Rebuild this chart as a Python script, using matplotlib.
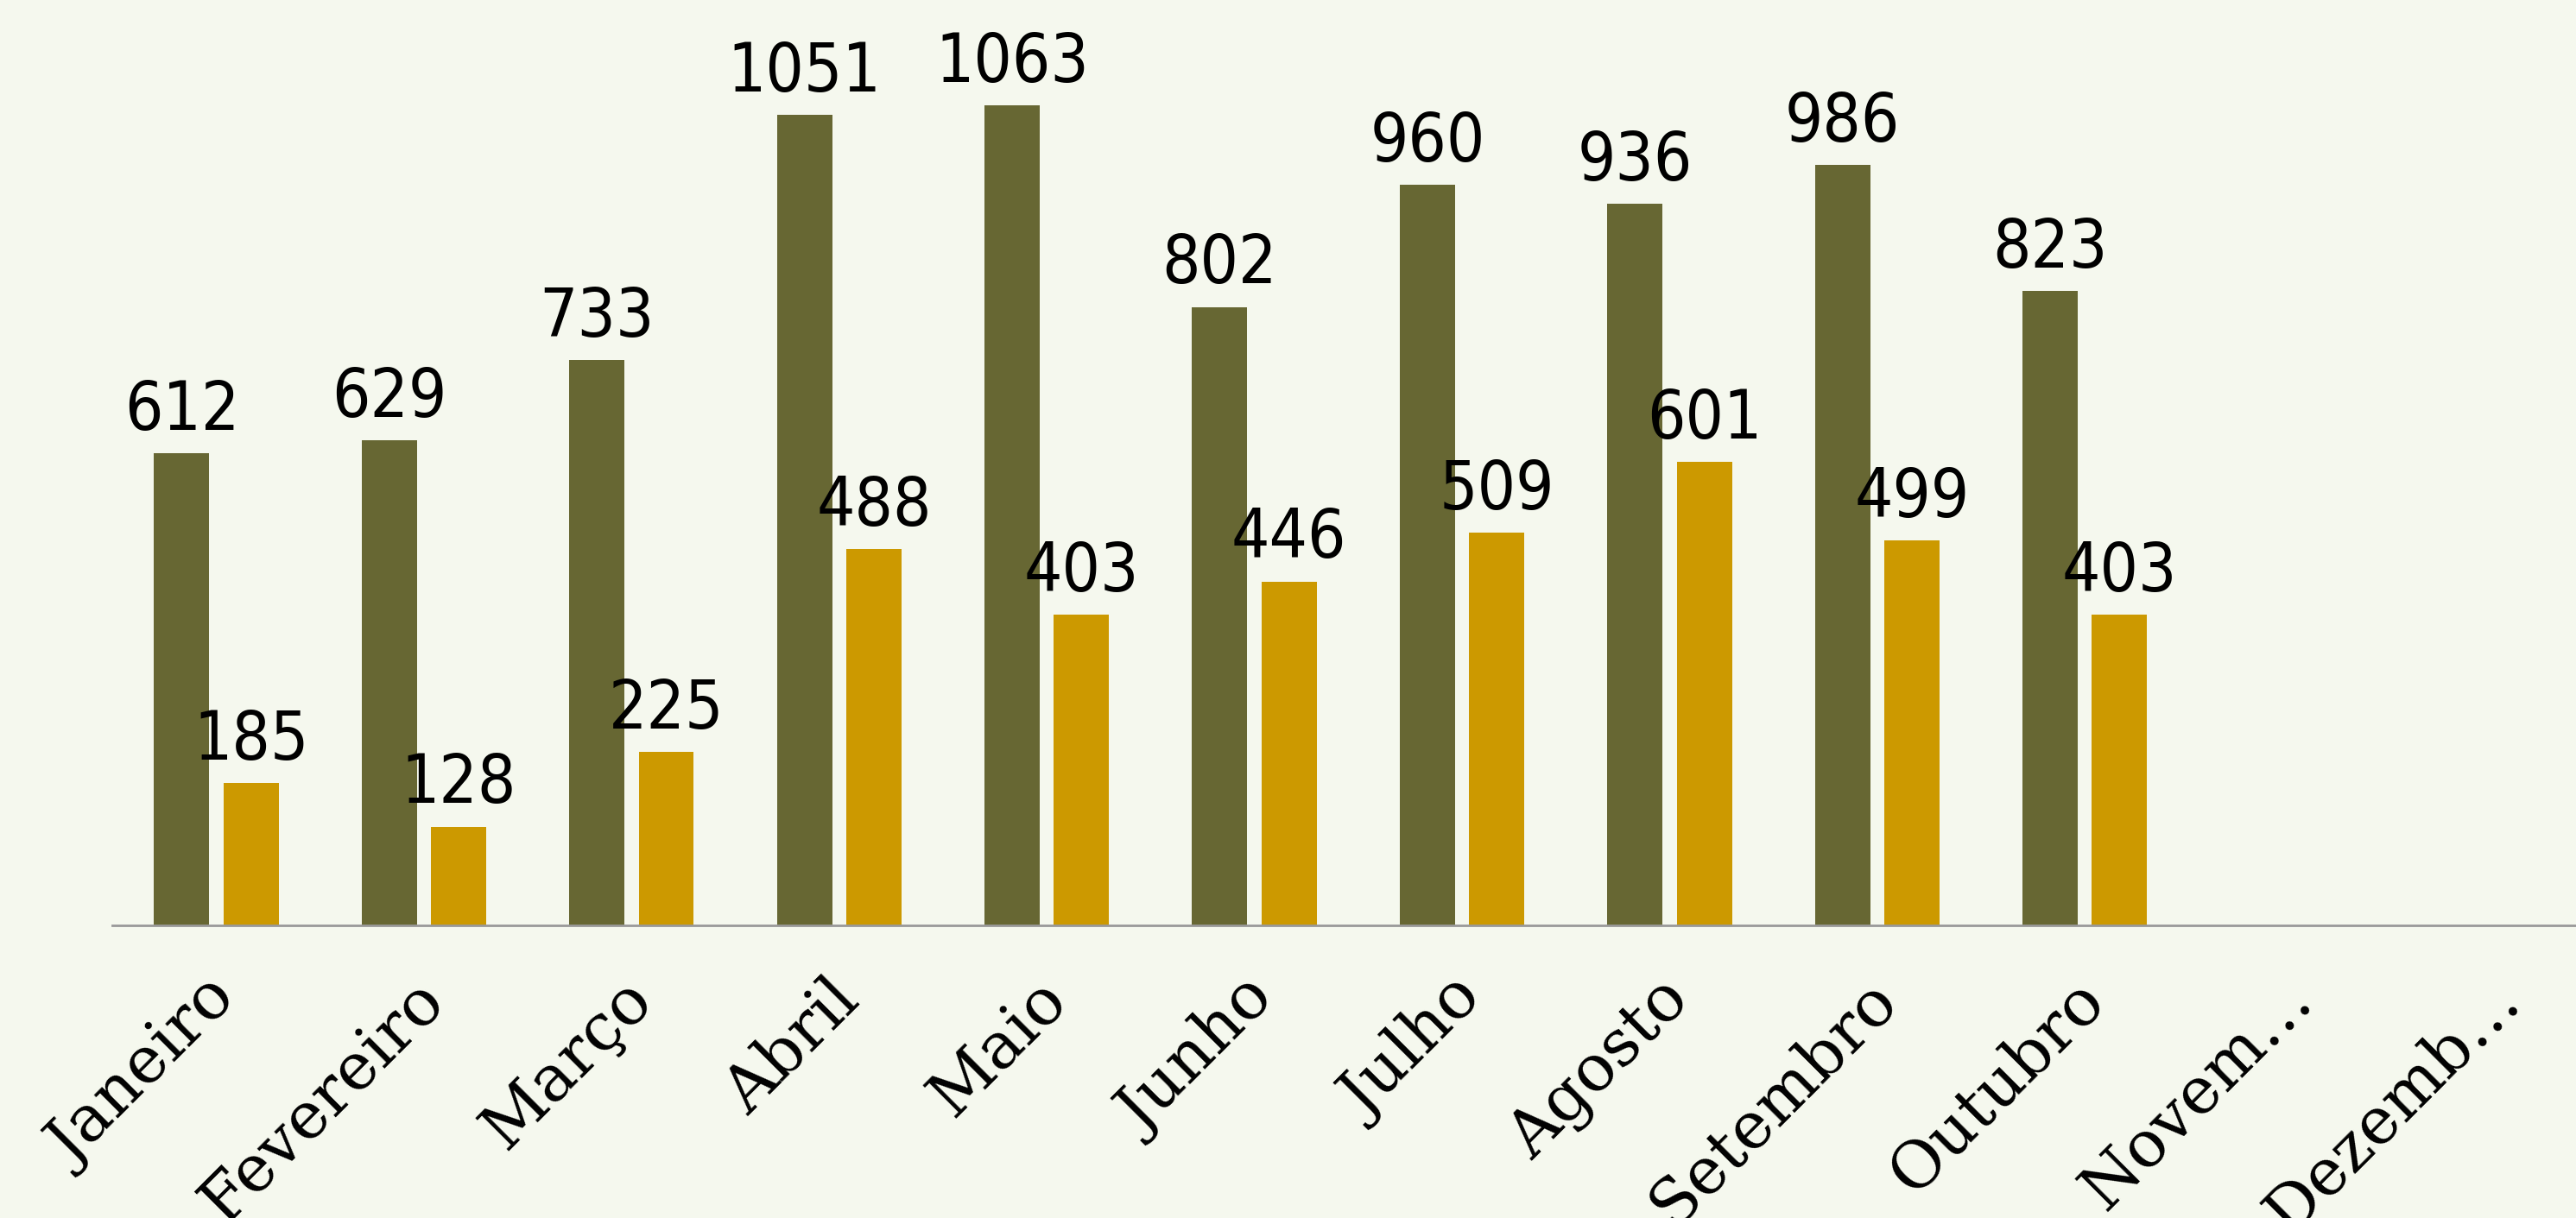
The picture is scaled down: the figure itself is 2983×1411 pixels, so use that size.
import numpy as np
import matplotlib
matplotlib.use("Agg")
import matplotlib.pyplot as plt
import matplotlib.transforms as mtransforms

meses = ["Janeiro", "Fevereiro", "Março", "Abril", "Maio", "Junho",
         "Julho", "Agosto", "Setembro", "Outubro", "Novem…", "Dezemb…"]
serie_a = [612, 629, 733, 1051, 1063, 802, 960, 936, 986, 823]
serie_b = [185, 128, 225, 488, 403, 446, 509, 601, 499, 403]

bg = "#F5F8EE"
cor_a = "#676733"
cor_b = "#CC9900"

fig = plt.figure(figsize=(29.83, 14.11), dpi=100, facecolor=bg)
# eixo sai um pouco alem da borda direita, como no original
ax = fig.add_axes([0.0437, 0.2403, 0.9671, 0.7597])
ax.set_facecolor(bg)

w = 0.266
off = 0.167
x = np.arange(len(meses))
xa = x[:len(serie_a)] - off
xb = x[:len(serie_b)] + off

ba = ax.bar(xa, serie_a, width=w, color=cor_a, zorder=2)
bb = ax.bar(xb, serie_b, width=w, color=cor_b, zorder=2)

for bars, vals in [(ba, serie_a), (bb, serie_b)]:
    for b, v in zip(bars, vals):
        ax.annotate(str(v), (b.get_x() + b.get_width() / 2, v),
                    xytext=(0, 8), textcoords="offset points",
                    ha="center", va="bottom", fontsize=56,
                    family="DejaVu Sans", fontstretch="condensed", color="black")

ax.set_xlim(-0.5, 11.5)
ax.set_ylim(0, 1200)
ax.set_yticks([])
ax.set_xticks(x)
ax.set_xticklabels(meses, rotation=45, ha="right", va="center",
                   rotation_mode="anchor",
                   fontsize=54, family="DejaVu Serif")
ax.tick_params(axis="x", length=0, pad=54)
shift = mtransforms.ScaledTranslation(12 / 100, 0, fig.dpi_scale_trans)
for lbl in ax.get_xticklabels():
    lbl.set_transform(lbl.get_transform() + shift)
for s in ["top", "right", "left"]:
    ax.spines[s].set_visible(False)
ax.spines["bottom"].set_color("#999999")
ax.spines["bottom"].set_linewidth(2)

fig.savefig("out.png", dpi=100, facecolor=bg)
